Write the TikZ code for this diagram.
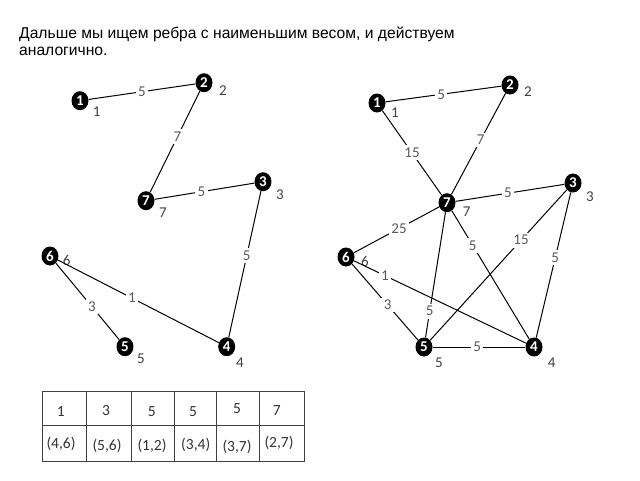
\documentclass[tikz,border=0pt]{standalone}
\usepackage{fontspec}
\setmainfont{Liberation Sans}
\newfontfamily\calfont{Carlito}
\usetikzlibrary{shapes.geometric}
\begin{document}
\begin{tikzpicture}[x=1pt,y=-1pt,
 vtx/.style={ellipse,fill=black,text=white,inner sep=0pt,minimum width=17pt,minimum height=19pt,font=\calfont\bfseries\fontsize{15}{15}\selectfont},
 vlab/.style={text=black!75,font=\calfont\fontsize{15}{15}\selectfont,inner sep=0pt},
 wt/.style={fill=white,text=black!65,font=\calfont\fontsize{15}{15}\selectfont,inner sep=2.5pt},
 edge/.style={line width=1pt},
 tline/.style={line width=0.8pt,draw=black!75},
 ttext/.style={text=black!80,font=\calfont\fontsize{15.5}{15.5}\selectfont,inner sep=0pt},
 title/.style={anchor=base west,inner sep=0pt,font=\fontsize{15.65}{15.65}\selectfont}]
\useasboundingbox (0,0) rectangle (640,480);
% title
\node[title] (t1) at (19,38.3) {Дальше мы ищем ребра с наименьшим весом, и действуем};
\node[title] (t2) at (19,55) {аналогично.};
% left graph
\node[vtx] (L1) at (80,100.7) {1};
\node[vtx] (L2) at (204,82.7) {2};
\node[vtx] (L7) at (146,200.7) {7};
\node[vtx] (L3) at (263,181.7) {3};
\node[vtx] (L6) at (50,256) {6};
\node[vtx] (L5) at (125,346.7) {5};
\node[vtx] (L4) at (226.7,346.7) {4};
\node[vlab] (l1) at (96.7,112) {1};
\node[vlab] (l2) at (223,91) {2};
\node[vlab] (l7) at (163,213) {7};
\node[vlab] (l3) at (280,195) {3};
\node[vlab] (l6) at (66.7,260.7) {6};
\node[vlab] (l5) at (141,359) {5};
\node[vlab] (l4) at (240,363) {4};
\draw[edge] (L1) -- (L2) node[wt,pos=0.5] {5};
\draw[edge] (L2) -- (L7) node[wt,pos=0.45] {7};
\draw[edge] (L7) -- (L3) node[wt,pos=0.47] {5};
\draw[edge] (L3) -- (L4) node[wt,pos=0.44] {5};
\draw[edge] (L6) -- (L4) node[wt,pos=0.46] {1};
\draw[edge] (L6) -- (L5) node[wt,pos=0.57] {3};
% right graph
\node[vtx] (R1) at (377,103) {1};
\node[vtx] (R2) at (510,85) {2};
\node[vtx] (R7) at (447,202.7) {7};
\node[vtx] (R3) at (573,183) {3};
\node[vtx] (R6) at (346,257) {6};
\node[vtx] (R5) at (424,347) {5};
\node[vtx] (R4) at (534,347) {4};
\node[vlab] (r1) at (395,113) {1};
\node[vlab] (r2) at (528,92) {2};
\node[vlab] (r7) at (466.7,211.7) {7};
\node[vlab] (r3) at (590,196.7) {3};
\node[vlab] (r6) at (365,261.7) {6};
\node[vlab] (r5) at (439,363) {5};
\node[vlab] (r4) at (551.7,363) {4};
\draw[edge] (R1) -- (R2) node[wt,pos=0.48] {5};
\draw[edge] (R1) -- (R7) node[wt,pos=0.5] {15};
\draw[edge] (R2) -- (R7) node[wt,pos=0.46] {7};
\draw[edge] (R7) -- (R3) node[wt,pos=0.48] {5};
\draw[edge] (R7) -- (R6) node[wt,pos=0.47] {25};
\draw[edge] (R7) -- (R4) node[wt,pos=0.27] {5};
\draw[edge] (R7) -- (R5) node[wt,pos=0.79] {5};
\draw[edge] (R3) -- (R5) node[wt,pos=0.335] {15};
\draw[edge] (R3) -- (R4) node[wt,pos=0.45] {5};
\draw[edge] (R6) -- (R4) node[wt,pos=0.18] {1};
\draw[edge] (R6) -- (R5) node[wt,pos=0.54] {3};
\draw[edge] (R5) -- (R4) node[wt,pos=0.48] {5};
% table
\draw[tline] (42.7,391) rectangle (304,461);
\draw[tline] (42.7,425.7) -- (304,425.7);
\foreach \x in {86,131.7,174,216.7,259} \draw[tline] (\x,391) -- (\x,461);
\node[ttext] (a1) at (60.7,412) {1};
\node[ttext] (a2) at (106,411) {3};
\node[ttext] (a3) at (151.7,411.7) {5};
\node[ttext] (a4) at (193,411.7) {5};
\node[ttext] (a5) at (237,409) {5};
\node[ttext] (a6) at (276.7,410.7) {7};
\node[ttext] (b1) at (61,444) {(4,6)};
\node[ttext] (b2) at (107,445.7) {(5,6)};
\node[ttext] (b3) at (152,445.7) {(1,2)};
\node[ttext] (b4) at (195.7,445) {(3,4)};
\node[ttext] (b5) at (237,446.7) {(3,7)};
\node[ttext] (b6) at (279,442.7) {(2,7)};
\end{tikzpicture}
\end{document}
